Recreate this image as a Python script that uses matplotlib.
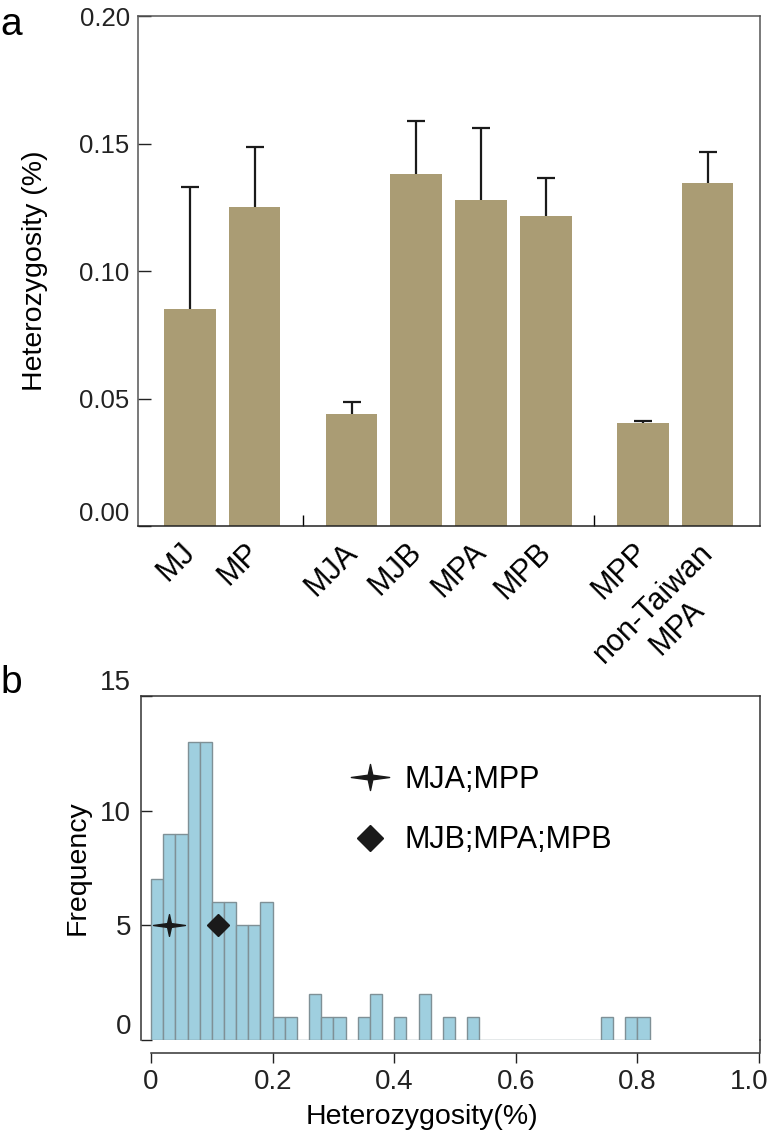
import numpy as np
import matplotlib
matplotlib.use("Agg")
import matplotlib.pyplot as plt
from matplotlib.path import Path
from matplotlib.lines import Line2D
from matplotlib.transforms import ScaledTranslation

plt.rcParams['font.family'] = ['Liberation Sans', 'DejaVu Sans']

# panel a: mean heterozygosity per population (upper error only)
groups = [["MJ", "MP"], ["MJA", "MJB", "MPA", "MPB"], ["MPP", "non-Taiwan\nMPA"]]
het_mean = [0.085, 0.125, 0.044, 0.138, 0.128, 0.1215, 0.0405, 0.1345]
het_err = [0.048, 0.0235, 0.0045, 0.021, 0.028, 0.015, 0.0008, 0.012]
a_yticks = [0.0, 0.05, 0.10, 0.15, 0.20]
a_yticklabels = ["0.00", "0.05", "0.10", "0.15", "0.20"]

# panel b: histogram of heterozygosity, bin width 0.02
bin_edges = np.round(np.arange(0, 0.8201, 0.02), 2)
bin_counts = [7, 9, 9, 13, 13, 6, 6, 5, 5, 6,
              1, 1, 0, 2, 1, 1, 0, 1, 2, 0, 1, 0, 2, 0, 1, 0, 1,
              0, 0, 0, 0, 0, 0, 0, 0, 0, 0,
              1, 0, 1, 1]
star_pt = (0.03, 5)      # MJA;MPP
diamond_pt = (0.11, 5)   # MJB;MPA;MPB
b_xticks = [0, 0.2, 0.4, 0.6, 0.8, 1.0]
b_xticklabels = ["0", "0.2", "0.4", "0.6", "0.8", "1.0"]
b_yticks = [0, 5, 10, 15]

bar_col = '#aa9c74'
hist_col = '#9fcfdf'
ink = '#1a1a1a'

fig = plt.figure(figsize=(7.68, 11.32), dpi=100)

# ---------------- panel a ----------------
ax1 = fig.add_axes([0.1797, 0.5353, 0.8099, 0.4505])

labels = [l for g in groups for l in g]
pos = []
x = 0.0
seps = []
for i, g in enumerate(groups):
    if i > 0:
        seps.append(x - 0.75)
    for _ in g:
        pos.append(x)
        x += 1
    x += 0.5
pos = np.array(pos)

ax1.bar(pos, het_mean, width=0.8, color=bar_col, zorder=2)
_, caps, _ = ax1.errorbar(pos, het_mean, yerr=[np.zeros(len(pos)), het_err],
                          fmt='none', ecolor=ink, elinewidth=1.6, capsize=6.5,
                          capthick=1.6, zorder=3)
caps[0].set_visible(False)   # no cap on the (zero) lower side

ax1.set_xlim(-0.8, 8.81)
ax1.set_ylim(0, 0.2)
ax1.set_yticks(a_yticks)
ax1.set_yticklabels(a_yticklabels)
ax1.get_yticklabels()[0].set_va('bottom')
ax1.tick_params(axis='y', direction='in', length=9, width=1, pad=6,
                labelsize=18.5, colors='#222')
ax1.set_xticks(pos)
ax1.set_xticklabels(labels, rotation=45, ha='right', rotation_mode='anchor',
                    multialignment='center')
ax1.tick_params(axis='x', which='major', length=0, pad=8, labelsize=22)
ax1.set_xticks(seps, minor=True)
ax1.tick_params(axis='x', which='minor', direction='in', length=8, width=1)
offset = ScaledTranslation(-7 / 72, 0, fig.dpi_scale_trans)
for t in ax1.get_xticklabels():
    t.set_transform(t.get_transform() + offset)

for s in ax1.spines.values():
    s.set_color('#555')
    s.set_linewidth(1.1)
ax1.spines['bottom'].set_color('#222')

ax1.set_ylabel("Heterozygosity (%)", fontsize=20.5)
ax1.yaxis.set_label_coords(-0.145, 0.5)

fig.text(0.0, 1 - 35 / 1132, "a", fontsize=28, va='baseline')

# ---------------- panel b ----------------
ax2 = fig.add_axes([0.1836, 0.0813, 0.806, 0.3039])

ax2.bar(bin_edges[:-1], bin_counts, width=0.02, align='edge', color=hist_col,
        edgecolor='#7f9096', linewidth=1.0, zorder=2)

star = Path([(1, 0), (0.12, 0.12), (0, 0.68), (-0.12, 0.12), (-1, 0),
             (-0.12, -0.12), (0, -0.68), (0.12, -0.12), (1, 0)],
            [Path.MOVETO] + [Path.LINETO] * 7 + [Path.CLOSEPOLY])
h1, = ax2.plot(*star_pt, ls='none', marker=star, ms=23, color=ink, zorder=4)
h2, = ax2.plot(*diamond_pt, ls='none', marker='D', ms=11, color=ink, zorder=4)

ax2.legend([h1, h2], ["MJA;MPP", "MJB;MPA;MPB"], loc='upper left',
           bbox_to_anchor=(0.342, 0.80), frameon=False, fontsize=22,
           borderpad=0, borderaxespad=0, handlelength=1.1, handletextpad=0.6,
           labelspacing=1.0, numpoints=1, markerscale=1.2)

ax2.set_xlim(-0.0165, 1.0015)
ax2.set_ylim(0, 15)
ax2.set_yticks(b_yticks)
ax2.tick_params(axis='y', direction='in', length=8, width=1, pad=7,
                labelsize=20, colors='#222')
yl = ax2.get_yticklabels()
yl[0].set_va('bottom')
yl[-1].set_va('bottom')

ax2.spines['bottom'].set_position(('outward', 9.4))
ax2.spines['bottom'].set_bounds(0, 1.0)
ax2.set_xticks(b_xticks)
ax2.set_xticklabels(b_xticklabels)
ax2.tick_params(axis='x', direction='out', length=7.2, width=1, pad=4,
                labelsize=20, colors='#222')
last = ax2.get_xticklabels()[-1]
last.set_transform(last.get_transform() +
                   ScaledTranslation(-10 / 100, 0, fig.dpi_scale_trans))
for s in ax2.spines.values():
    s.set_color('#333')
    s.set_linewidth(1.1)
# right spine runs down to the offset x axis
ax2.add_line(Line2D([1, 1], [0, -0.038], transform=ax2.transAxes,
                    color='#333', lw=1.1, clip_on=False))

ax2.set_ylabel("Frequency", fontsize=20.5)
ax2.yaxis.set_label_coords(-0.082, 0.5)
ax2.set_xlabel("Heterozygosity(%)", fontsize=20.5)
ax2.xaxis.set_label_coords(0.454, -0.185)

fig.text(0.0, 1 - 693 / 1132, "b", fontsize=28, va='baseline')

fig.savefig("out.png", dpi=100)
